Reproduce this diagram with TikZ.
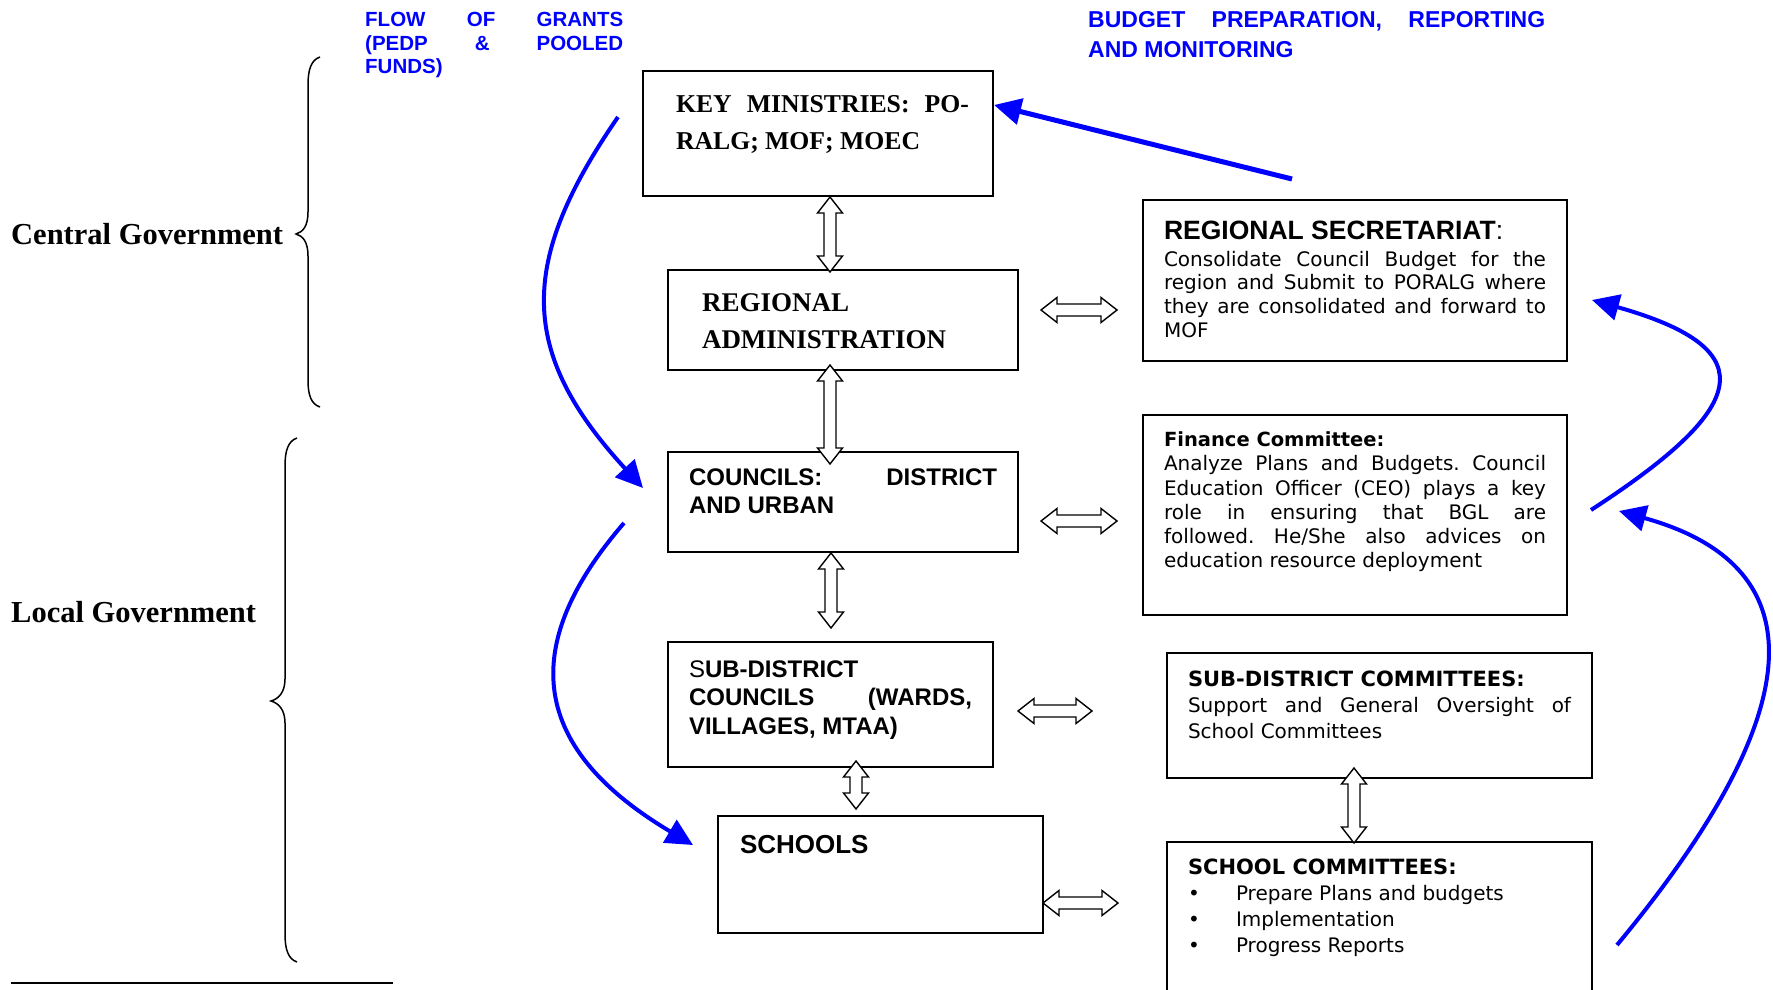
\documentclass[tikz,border=0pt]{standalone}
\usepackage{fontspec}
\setmainfont{Liberation Serif}
\newfontfamily\arial{Liberation Sans}
\newfontfamily\verdana{DejaVu Sans}
\usetikzlibrary{arrows.meta,calc}
\frenchspacing

\begin{document}
\begin{tikzpicture}[x=1pt,y=-1pt]
\tikzstyle{boite} = [draw, line width=1.6pt, anchor=north west, outer sep=0pt, inner ysep=0pt, align=justify] %cadres
\tikzstyle{titre} = [text=blue, anchor=base west, inner sep=0pt, align=justify] %titres bleus
\tikzstyle{niveau} = [anchor=base west, inner sep=0pt, font=\bfseries\fontsize{30.5}{36}\selectfont] %niveaux
\tikzstyle{flux} = [blue, line width=4pt, -{Triangle[length=27pt,width=26pt]}] %fleches bleues
\tikzstyle{dfleche} = [draw, fill=white, line width=1.4pt, line join=miter, to path={
 -- ($(\tikztostart)!16pt!(\tikztotarget)!12.5pt!90:(\tikztotarget)$)
 -- ($(\tikztostart)!16pt!(\tikztotarget)!6pt!90:(\tikztotarget)$)
 -- ($(\tikztotarget)!16pt!(\tikztostart)!6pt!-90:(\tikztostart)$)
 -- ($(\tikztotarget)!16pt!(\tikztostart)!12.5pt!-90:(\tikztostart)$)
 -- (\tikztotarget)
 -- ($(\tikztotarget)!16pt!(\tikztostart)!12.5pt!90:(\tikztostart)$)
 -- ($(\tikztotarget)!16pt!(\tikztostart)!6pt!90:(\tikztostart)$)
 -- ($(\tikztostart)!16pt!(\tikztotarget)!6pt!-90:(\tikztotarget)$)
 -- ($(\tikztostart)!16pt!(\tikztotarget)!12.5pt!-90:(\tikztotarget)$)
 -- cycle}] %fleches doubles creuses

\useasboundingbox (0,0) rectangle (1773,990);

%titres
\node[titre, text width=258pt, font=\arial\bfseries\fontsize{20.5}{23.5}\selectfont] (tflux) at (365,27) {FLOW OF GRANTS\linebreak (PEDP \& POOLED\linebreak FUNDS)\par};
\node[titre, text width=457pt, font=\arial\bfseries\fontsize{23}{29.5}\selectfont] (tbudget) at (1088,28) {BUDGET PREPARATION, REPORTING\linebreak AND MONITORING\par};

%niveaux et accolades
\node[niveau] (cg) at (11,244) {Central Government};
\node[niveau] (lg) at (11,622) {Local Government};
\draw[line width=1.5pt] (320,57) .. controls (311,60) and (308,70) .. (308,85) -- (308,212) .. controls (308,226) and (303,232) .. (296,234) .. controls (303,236) and (308,242) .. (308,256) -- (308,380) .. controls (308,395) and (311,404) .. (320,407);
\draw[line width=1.5pt] (297,438) .. controls (288,441) and (285,451) .. (285,466) -- (285,679) .. controls (285,693) and (278,699) .. (271,701) .. controls (278,703) and (285,709) .. (285,723) -- (285,934) .. controls (285,949) and (288,959) .. (297,962);
\draw[line width=1.3pt] (11,983) -- (393,983);

%boites de gauche
\node[boite, text width=302pt, inner xsep=24pt, text height=42pt, text depth=83pt] (km) at (643,71) {\leftskip=9pt\bfseries\fontsize{25.7}{36.5}\selectfont KEY MINISTRIES: PO-\linebreak RALG; MOF; MOEC\par};
\node[boite, text width=282pt, inner xsep=34pt, text height=41.5pt, text depth=58.5pt] (ra) at (668,270) {\bfseries\fontsize{27}{37}\selectfont REGIONAL\newline ADMINISTRATION\par};
\node[boite, text width=308pt, inner xsep=21pt, text height=33pt, text depth=67pt] (cou) at (668,452) {\arial\bfseries\fontsize{24}{28}\selectfont COUNCILS: DISTRICT\linebreak AND URBAN\par};
\node[boite, text width=283pt, inner xsep=21pt, text height=35pt, text depth=90pt] (sdc) at (668,642) {\arial\bfseries\fontsize{24}{28.5}\selectfont{\mdseries S}UB-DISTRICT\newline COUNCILS (WARDS,\linebreak VILLAGES, MTAA)\par};
\node[boite, text width=281pt, inner xsep=22pt, text height=37pt, text depth=80pt] (sch) at (718,816) {\arial\bfseries\fontsize{26}{30}\selectfont SCHOOLS\par};

%boites de droite
\node[boite, text width=382pt, inner xsep=21pt, text height=39pt, text depth=122pt] (rs) at (1143,200) {{\arial\bfseries\fontsize{26.5}{30}\selectfont REGIONAL SECRETARIAT{\mdseries :}\par}\vspace{3.5pt}\verdana\fontsize{20}{23.7}\selectfont Consolidate Council Budget for the\linebreak region and Submit to PORALG where\linebreak they are consolidated and forward to\linebreak MOF\par};
\node[boite, text width=382pt, inner xsep=21pt, text height=31pt, text depth=169pt] (fc) at (1143,415) {{\verdana\bfseries\fontsize{19.5}{24.2}\selectfont Finance Committee:\par}\vspace{0.7pt}\verdana\fontsize{20}{24.2}\selectfont Analyze Plans and Budgets. Council\linebreak Education Officer (CEO) plays a key\linebreak role in ensuring that BGL are\linebreak followed. He/She also advices on\linebreak education resource deployment\par};
\node[boite, text width=383pt, inner xsep=21pt, text height=33pt, text depth=92pt] (sdcm) at (1167,653) {{\verdana\bfseries\fontsize{21}{26}\selectfont SUB-DISTRICT COMMITTEES:\par}\verdana\fontsize{20}{26}\selectfont Support and General Oversight of\linebreak School Committees\par};
\node[boite, text width=383pt, inner xsep=21pt, text height=32pt, text depth=136pt] (scm) at (1167,842) {{\verdana\bfseries\fontsize{21}{26}\selectfont SCHOOL COMMITTEES:\par}\verdana\fontsize{20}{26}\selectfont \makebox[48pt][l]{•}Prepare Plans and budgets\par\makebox[48pt][l]{•}Implementation\par\makebox[48pt][l]{•}Progress Reports\par};

%fleches doubles
\draw[dfleche] ([shift={(12,1)}]km.south) to ([shift={(-13,2)}]ra.north);
\draw[dfleche] ([shift={(-13,-5)}]ra.south) to ([shift={(-13,12)}]cou.north);
\draw[dfleche] ([shift={(-12,1)}]cou.south) to ([shift={(0.5,-14)}]sdc.north);
\draw[dfleche] ([shift={(25.5,-6)}]sdc.south) to ([shift={(-24.5,-7)}]sch.north);
\draw[dfleche] ([shift={(-25.5,-10)}]sdcm.south) to ([shift={(-25.5,1)}]scm.north);
\draw[dfleche] ([shift={(23,-10)}]ra.east) to ([shift={(-26,29.5)}]rs.west);
\draw[dfleche] ([shift={(23,19)}]cou.east) to ([shift={(-26,6)}]fc.west);
\draw[dfleche] ([shift={(25,6.5)}]sdc.east) to ([shift={(-75,-4.5)}]sdcm.west);
\draw[dfleche] ([shift={(0,28.5)}]sch.east) to ([shift={(-49,-23)}]scm.west);

%extremites des fleches bleues
\coordinate (f1) at (618,117);
\coordinate (f2) at (624,523);
\coordinate (b1) at (1292,179);
\coordinate (b2) at (1591,510);
\coordinate (b3) at (1617,945);

%fleches bleues
\draw[flux] (f1) .. controls (518,262) and (518,352) .. ([shift={(-25,-14)}]cou.west);
\draw[flux] (f2) .. controls (523,640) and (523,744) .. ([shift={(-25,-29.5)}]sch.west);
\draw[flux, line width=5pt] (b1) -- ([shift={(1,-28.5)}]km.east);
\draw[flux] (b2) .. controls (1745,410) and (1770,350) .. ([shift={(25,19.5)}]rs.east);
\draw[flux] (b3) .. controls (1820,700) and (1810,564) .. ([shift={(52,-4)}]fc.east);
\end{tikzpicture}
\end{document}
